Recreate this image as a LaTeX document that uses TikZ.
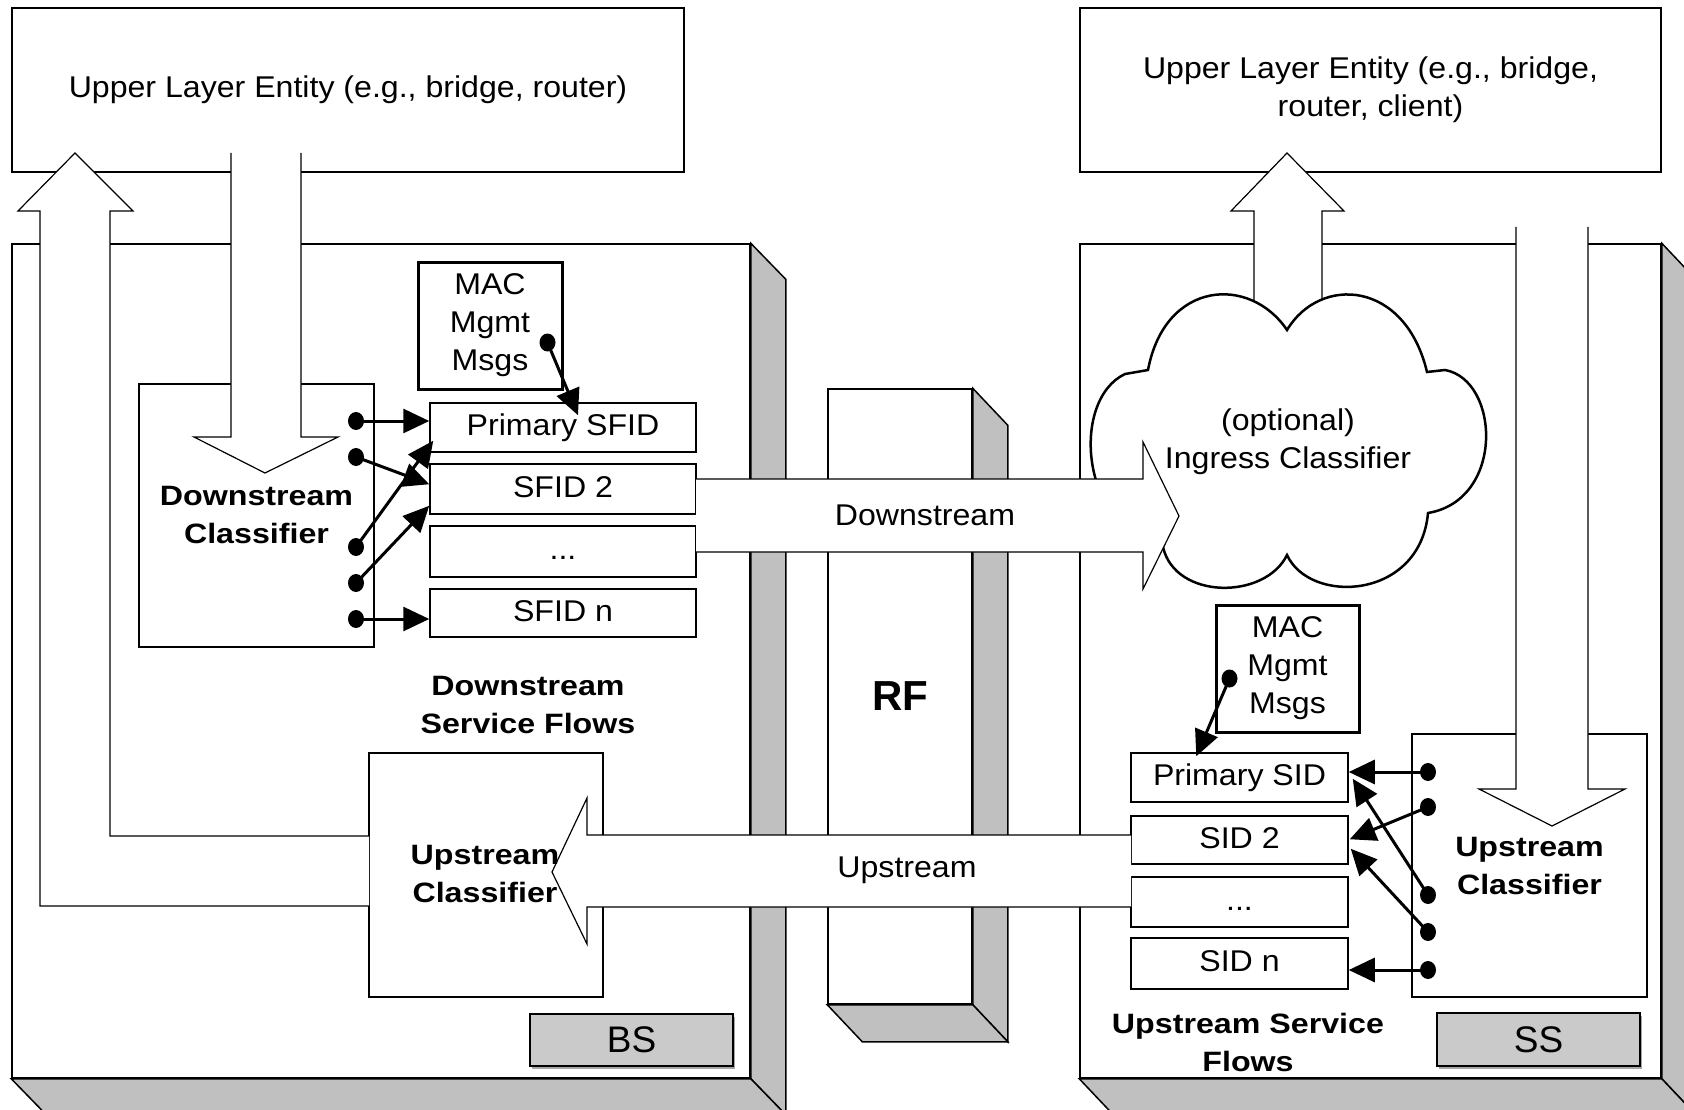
\documentclass[tikz,border=0pt]{standalone}
\usepackage{fontspec}
\setmainfont{Liberation Sans}[FakeStretch=1.07]
\newfontfamily\wideboldfam{Liberation Sans}[FakeStretch=1.15]
\newfontfamily\plainfam{Liberation Sans}
\usetikzlibrary{arrows.meta,calc,shadows,shapes.geometric}
\definecolor{sidegray}{HTML}{C0C0C0}
\definecolor{labelgray}{HTML}{CACACA}
\newcommand{\regfont}{\fontsize{30}{38}\selectfont}
\newcommand{\boldfont}{\wideboldfam\bfseries\fontsize{28}{38}\selectfont}
\newcommand{\rffont}{\plainfam\bfseries\fontsize{42}{42}\selectfont}
\newcommand{\lblfont}{\plainfam\fontsize{37}{37}\selectfont}
\begin{document}
\begin{tikzpicture}[x=1pt,y=-1pt,
  box/.style={draw, line width=1.5pt, fill=white, inner sep=0pt},
  txt/.style={font=\regfont, align=center},
  sbox/.style={box, font=\regfont, text height=22pt, text depth=6pt},
  macbox/.style={draw, line width=3pt, fill=white, inner sep=0pt, minimum width=144pt, minimum height=127pt, font=\regfont, align=center},
  lblbox/.style={draw, line width=2.5pt, fill=labelgray, inner sep=0pt, minimum width=203pt, minimum height=52pt, font=\lblfont, drop shadow={shadow xshift=2pt, shadow yshift=-3pt, fill=gray!70, opacity=1}},
  face/.style={fill=sidegray, draw, line width=1.5pt},
  dotnode/.style={ellipse, fill=black, minimum width=16pt, minimum height=18pt, inner sep=0pt},
  sarrow/.style={line width=3pt, -{Triangle[length=26pt,width=24pt]}},
  bigline/.style={draw, line width=1.2pt, line join=miter},
  cloudline/.style={draw, line width=2.5pt, fill=white},
  boldtxt/.style={font=\boldfont, align=center}
]
\useasboundingbox (0,0) rectangle (1684,1110);
\clip (0,0) rectangle (1684,1110);
\fill[white] (0,0) rectangle (1684,1110);

% upper layer entities
\node[box, txt, minimum width=672pt, minimum height=164pt] (ulbox) at (348,90) {Upper Layer Entity (e.g., bridge, router)};
\node[box, txt, minimum width=581pt, minimum height=164pt] (urbox) at (1370.5,90) {Upper Layer Entity (e.g., bridge,\\ router, client)};

% BS block
\node[box, minimum width=738pt, minimum height=834pt] (bs) at (381,661) {};
\filldraw[face] (bs.north east) -- ++(35,36) -- ($(bs.south east)+(35,36)$) -- (bs.south east) -- cycle;
\filldraw[face] (bs.south west) -- (bs.south east) -- ++(35,36) -- ($(bs.south west)+(35,36)$) -- cycle;

% RF block
\node[box, minimum width=144pt, minimum height=615pt, font=\rffont] (rf) at (900,696.5) {RF};
\filldraw[face] (rf.north east) -- ++(35,37) -- ($(rf.south east)+(35,37)$) -- (rf.south east) -- cycle;
\filldraw[face] (rf.south west) -- (rf.south east) -- ++(35,37) -- ($(rf.south west)+(35,37)$) -- cycle;

% SS block
\node[box, minimum width=581pt, minimum height=834pt] (ss) at (1370.5,661) {};
\filldraw[face] (ss.north east) -- ++(35,37) -- ($(ss.south east)+(35,37)$) -- (ss.south east) -- cycle;
\filldraw[face] (ss.south west) -- (ss.south east) -- ++(35,37) -- ($(ss.south west)+(35,37)$) -- cycle;

% classifiers
\node[box, boldtxt, minimum width=235pt, minimum height=263pt] (dcls) at (256.5,515.5) {Downstream\\Classifier};
\node[box, minimum width=234pt, minimum height=244pt] (uclsbs) at (486,875) {};
\node[box, boldtxt, minimum width=235pt, minimum height=263pt] (uclsss) at (1529.5,865.5) {Upstream\\Classifier};

% MAC boxes
\node[macbox] (macbs) at (490,325.5) {MAC\\Mgmt\\Msgs};
\node[macbox, minimum width=143pt] (macss) at (1287.5,668.5) {MAC\\Mgmt\\Msgs};

% SFID boxes
\node[sbox, minimum width=266pt, minimum height=49pt] (sfid1) at (563,427.5) {Primary SFID};
\node[sbox, minimum width=266pt, minimum height=50pt] (sfid2) at (563,489) {SFID 2};
\node[sbox, minimum width=266pt, minimum height=51pt] (sfid3) at (563,551.5) {...};
\node[sbox, minimum width=266pt, minimum height=48pt] (sfidn) at (563,613) {SFID n};

% SID boxes
\node[sbox, minimum width=217pt, minimum height=49pt] (sid1) at (1239.5,777.5) {Primary SID};
\node[sbox, minimum width=217pt, minimum height=48pt] (sid2) at (1239.5,840) {SID 2};
\node[sbox, minimum width=217pt, minimum height=50pt] (sid3) at (1239.5,902) {...};
\node[sbox, minimum width=217pt, minimum height=51pt] (sidn) at (1239.5,963.5) {SID n};

% labels BS / SS
\node[lblbox] (bslbl) at (631.5,1040) {BS};
\node[lblbox, minimum height=53pt] (sslbl) at (1538.5,1039.5) {SS};

% downstream classifier connectors
\node[dotnode] (d1) at (356,421) {};
\node[dotnode] (d2) at (356,457) {};
\node[dotnode] (d3) at (356,547) {};
\node[dotnode] (d4) at (356,583) {};
\node[dotnode] (d5) at (356,619) {};
\draw[sarrow] (d1.center) -- (sfid1.west |- d1.center);
\draw[sarrow] (d2.center) -- ($(sfid2.north west)+(0,21)$);
\draw[sarrow] (d3.center) -- ($(sfid1.south west)+(4,-12)$);
\draw[sarrow] (d4.center) -- ($(sfid2.south west)+(0,-9)$);
\draw[sarrow] (d5.center) -- (sfidn.west |- d5.center);
\node[dotnode] (mdb) at ($(macbs.east)+(-16,17)$) {};
\draw[sarrow] (mdb.center) -- ($(sfid1.north)+(15,13)$);

% upstream classifier connectors
\node[dotnode] (e1) at (1428,772) {};
\node[dotnode] (e2) at (1428,807) {};
\node[dotnode] (e3) at (1428,895) {};
\node[dotnode] (e4) at (1428,932) {};
\node[dotnode] (e5) at (1428,970) {};
\draw[sarrow] (e1.center) -- (sid1.east |- e1.center);
\draw[sarrow] (e2.center) -- ($(sid2.north east)+(1,24)$);
\draw[sarrow] (e3.center) -- ($(sid1.south east)+(4,-24)$);
\draw[sarrow] (e4.center) -- ($(sid2.south east)+(2,-16)$);
\draw[sarrow] (e5.center) -- (sidn.east |- e5.center);
\node[dotnode] (mds) at ($(macss.west)+(15,10)$) {};
\draw[sarrow] (mds.center) -- ($(sid1.north west)+(66,4)$);

% big arrow: down into BS
\fill[white] (231,153) -- (231,437) -- (194,437) -- (265,473) -- (338,437) -- (301,437) -- (301,153) -- cycle;
\draw[bigline] (231,153) -- (231,437) -- (194,437) -- (265,473) -- (338,437) -- (301,437) -- (301,153);

% big L arrow: up from upstream classifier (BS)
\fill[white] (369,836) -- (110,836) -- (110,211) -- (133,211) -- (75,153) -- (18,211) -- (40,211) -- (40,906) -- (369,906) -- cycle;
\draw[bigline] (369,836) -- (110,836) -- (110,211) -- (133,211) -- (75,153) -- (18,211) -- (40,211) -- (40,906) -- (369,906);

% big arrow: up from cloud (SS)
\fill[white] (1254,340) -- (1254,211) -- (1231,211) -- (1287,153) -- (1344,211) -- (1322,211) -- (1322,340) -- cycle;
\draw[bigline] (1254,340) -- (1254,211) -- (1231,211) -- (1287,153) -- (1344,211) -- (1322,211) -- (1322,340);

% big arrow: down into SS
\fill[white] (1516,227) -- (1516,789) -- (1479,789) -- (1552,826) -- (1625,789) -- (1588,789) -- (1588,227) -- cycle;
\draw[bigline] (1516,227) -- (1516,789) -- (1479,789) -- (1552,826) -- (1625,789) -- (1588,789) -- (1588,227);

% big arrow: upstream
\fill[white] (1131,835) -- (587,835) -- (587,798) -- (552,872) -- (587,944) -- (587,907) -- (1131,907) -- cycle;
\draw[bigline] (1131,835) -- (587,835) -- (587,798) -- (552,872) -- (587,944) -- (587,907) -- (1131,907);

% cloud
\filldraw[cloudline] (1148,370) .. controls (1165,280) and (1250,275) .. (1287,330)
  .. controls (1320,275) and (1405,280) .. (1427,372)
  -- (1445,370)
  .. controls (1500,380) and (1505,500) .. (1428,513)
  .. controls (1420,600) and (1310,605) .. (1287,555)
  .. controls (1265,600) and (1175,600) .. (1163,547)
  .. controls (1080,530) and (1070,400) .. (1125,374)
  -- cycle;

% big arrow: downstream
\fill[white] (696,479) -- (1143,479) -- (1143,442) -- (1179,516) -- (1143,589) -- (1143,552) -- (696,552) -- cycle;
\draw[bigline] (696,479) -- (1143,479) -- (1143,442) -- (1179,516) -- (1143,589) -- (1143,552) -- (696,552);

% texts
\node[font=\regfont] (dslbl) at (925,515) {Downstream};
\node[font=\regfont] (uslbl) at (907,870) {Upstream};
\node[boldtxt] (uclsT) at (485,874) {Upstream\\Classifier};
\node[txt] (cloudT) at (1288,442) {(optional)\\Ingress Classifier};
\node[boldtxt] (dsflows) at (528,705) {Downstream\\Service Flows};
\node[boldtxt] (usflows) at (1248,1042) {Upstream Service\\Flows};
\end{tikzpicture}
\end{document}
